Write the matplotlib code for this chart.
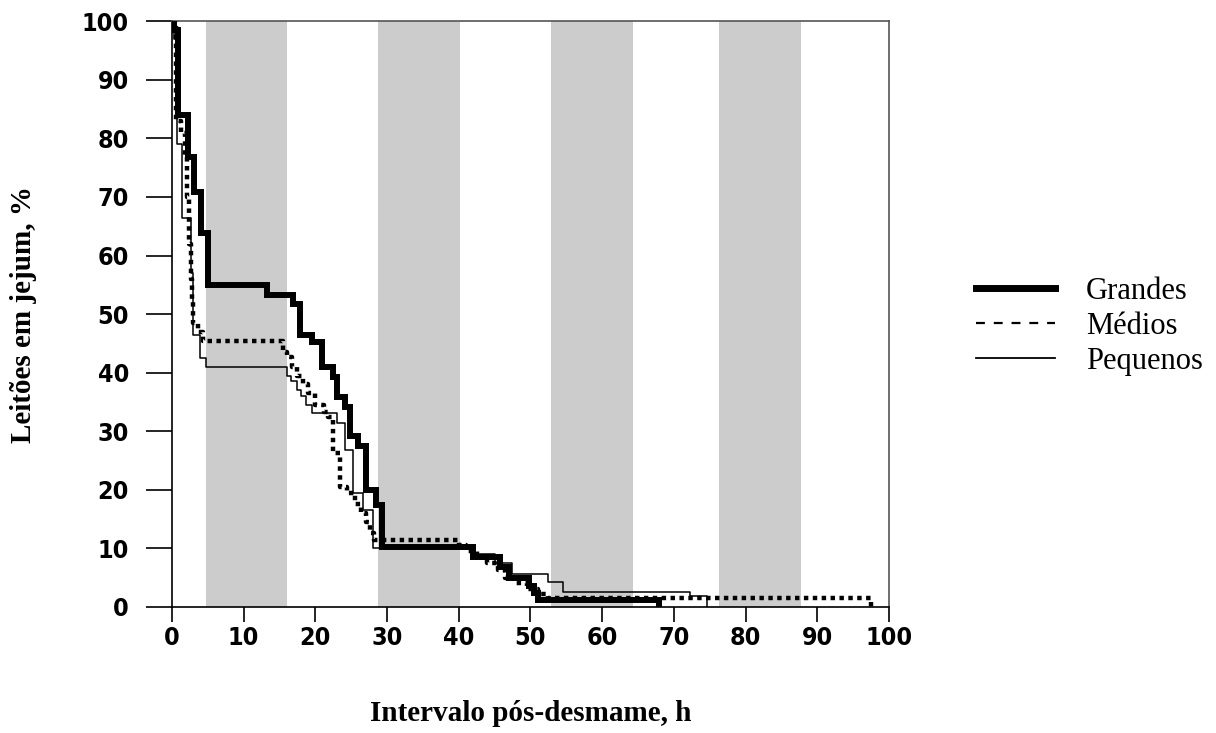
import matplotlib
matplotlib.use("Agg")
import matplotlib.pyplot as plt
from matplotlib.lines import Line2D

#DATA (Kaplan-Meier style step curves, % of piglets still fasting)
hours_grandes = [0, 0.3, 0.9, 2.2, 3.1, 4.1, 5.0, 13.2, 16.9, 17.9, 19.5, 20.9,
                 22.5, 23.0, 24.2, 24.9, 26.0, 27.0, 28.4, 29.3, 42.0, 45.8,
                 47.0, 49.8, 50.5, 51.1, 68.0]
pct_grandes = [100, 98.5, 84, 76.8, 70.9, 63.8, 55.0, 53.2, 51.8, 46.4, 45.3, 41.0,
               39.3, 35.9, 34.2, 29.1, 27.4, 20.0, 17.4, 10.3, 8.5, 6.8,
               5.0, 3.5, 2.4, 1.2, 0]

hours_medios = [0, 0.5, 1.3, 1.8, 2.1, 2.4, 2.6, 2.8, 3.0, 3.6, 4.3, 15.5, 16.0,
                16.8, 17.5, 18.3, 19.0, 20.0, 21.2, 21.8, 22.5, 23.5, 24.4, 25.5,
                26.3, 27.0, 27.6, 28.2, 40.0, 41.0, 42.5, 44.0, 45.5, 46.5, 48.0,
                49.5, 51.0, 52.5, 97.5]
pct_medios = [100, 83, 81, 77, 70, 62, 56, 52, 48.5, 47, 45.4, 43.5, 42.7,
              40.9, 39.5, 38.0, 36.5, 34.5, 33.2, 32.5, 26.3, 20.5, 19.4, 17.5,
              16.0, 14.5, 12.6, 11.4, 10.5, 9.5, 8.5, 7.5, 6.3, 5.0, 4.0,
              3.0, 2.2, 1.5, 0]

hours_pequenos = [0, 0.3, 0.65, 1.35, 2.6, 2.9, 3.9, 4.8, 16.0, 16.6, 17.4, 18.0,
                  18.7, 19.5, 23.0, 24.2, 25.2, 26.7, 28.1, 42.0, 45.0, 47.5,
                  52.5, 54.6, 72.3, 74.6]
pct_pequenos = [100, 97, 79, 66.4, 57, 46.4, 42.5, 41.0, 39.5, 38.5, 37.0, 36.0,
                34.5, 33.1, 31.4, 26.8, 19.5, 16.6, 10.0, 9.0, 7.5, 5.7,
                4.2, 2.5, 1.9, 0]

#shaded periods (h)
bands = [(4.8, 16.1), (28.7, 40.2), (52.9, 64.3), (76.3, 87.7)]

x_ticks = list(range(0, 101, 10))
y_ticks = list(range(0, 101, 10))

#FIGURE
fig = plt.figure(figsize=(12.16, 7.33), dpi=100)
ax = fig.add_axes([0.1414, 0.172, 0.5896, 0.799])

for a, b in bands:
    ax.axvspan(a, b, color="#cccccc", lw=0, zorder=0)

ax.step(hours_pequenos, pct_pequenos, where="post", color="black", lw=1.1, zorder=3)
ax.step(hours_medios, pct_medios, where="post", color="black", lw=3.2,
        linestyle=(0, (1, 1)), dash_capstyle="butt", zorder=2)
ax.step(hours_grandes, pct_grandes, where="post", color="black", lw=4.3,
        solid_joinstyle="miter", zorder=4)

ax.set_xlim(0, 100)
ax.set_ylim(0, 100)

ax.set_xticks(x_ticks)
ax.set_yticks(y_ticks)

tick_font = dict(family="DejaVu Sans", weight="bold", stretch="condensed", size=18)
ax.set_xticklabels([str(t) for t in x_ticks], fontdict=tick_font)
ax.set_yticklabels([str(t) for t in y_ticks], fontdict=tick_font)

ax.tick_params(axis="x", direction="out", length=11, width=1.2, pad=3)
ax.tick_params(axis="y", direction="out", length=19, width=1.2, pad=12)

for side in ["left", "bottom", "top", "right"]:
    ax.spines[side].set_linewidth(1.2)
ax.spines["top"].set_color("#555555")
ax.spines["right"].set_color("#555555")

ax.set_xlabel("Intervalo pós-desmame, h", family="Liberation Serif", weight="bold",
              size=21, labelpad=36)
ax.set_ylabel("Leitões em jejum, %", family="Liberation Serif", weight="bold",
              size=21, labelpad=32)

#LEGEND
handles = [
    Line2D([], [], color="black", lw=5),
    Line2D([], [], color="black", lw=1.6, linestyle=(0, (4, 4))),
    Line2D([], [], color="black", lw=1.3),
]
labels = ["Grandes", "Médios", "Pequenos"]
fig.legend(handles, labels, loc="center left", bbox_to_anchor=(0.78, 0.555),
           frameon=False, prop=dict(family="Liberation Serif", size=22),
           handlelength=2.6, handletextpad=1.0, labelspacing=0.2)

plt.savefig("out.png", dpi=100)
